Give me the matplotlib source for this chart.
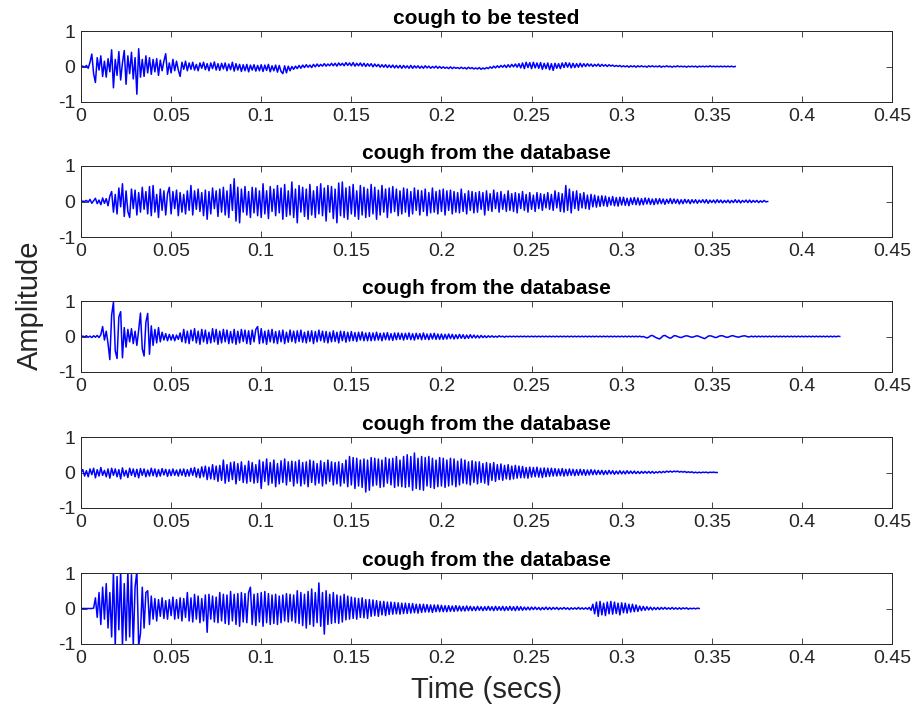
import numpy as np
import matplotlib
matplotlib.use("Agg")
import matplotlib.pyplot as plt

plt.rcParams["font.family"] = ["Liberation Sans", "DejaVu Sans"]

# sample spacing of the traced waveforms (s)
DT = 0.001

TITLES = ["cough to be tested", "cough from the database", "cough from the database",
          "cough from the database", "cough from the database"]

# amplitudes, one value every DT seconds (20 per row = 0.02 s)
cough_test = [
    0.00, 0.01, -0.02, 0.03, -0.05, 0.12, 0.35, -0.20, -0.45, 0.25, -0.10, 0.30, -0.28, 0.15, -0.30, 0.22, -0.15, 0.47, -0.60, 0.20,
    -0.25, 0.42, -0.38, 0.10, 0.45, -0.50, 0.30, -0.20, 0.40, -0.35, 0.25, -0.78, 0.50, -0.30, 0.20, -0.28, 0.30, -0.18, 0.25, -0.22,
    0.20, -0.15, 0.22, -0.25, 0.18, -0.12, 0.15, 0.36, -0.22, 0.10, -0.18, 0.20, -0.12, 0.15, -0.10, -0.28, 0.12, -0.08, 0.15, -0.12,
    0.10, -0.08, 0.12, -0.10, 0.06, -0.12, 0.10, -0.05, 0.12, -0.09, 0.08, -0.12, 0.10, -0.06, 0.13, -0.10, 0.08, -0.11, 0.09, -0.07,
    0.10, -0.12, 0.07, -0.09, 0.12, -0.13, 0.08, -0.10, 0.06, -0.14, 0.05, -0.12, 0.06, -0.15, 0.04, -0.10, 0.05, -0.13, 0.03, -0.12,
    0.05, -0.14, 0.04, -0.11, 0.06, -0.15, 0.02, -0.12, 0.04, -0.16, 0.03, -0.14, -0.20, 0.02, -0.18, 0.01, -0.12, 0.00, -0.08, 0.01,
    -0.06, 0.03, -0.05, 0.04, -0.03, 0.05, -0.02, 0.04, -0.03, 0.06, -0.01, 0.07, 0.00, 0.06, 0.01, 0.08, 0.01, 0.07, 0.02, 0.09,
    0.02, 0.09, 0.01, 0.10, 0.03, 0.09, 0.02, 0.11, 0.03, 0.10, 0.02, 0.11, 0.01, 0.09, 0.02, 0.10, 0.01, 0.09, 0.00, 0.08,
    0.01, 0.08, -0.01, 0.07, 0.00, 0.06, -0.02, 0.05, -0.02, 0.05, -0.03, 0.04, -0.03, 0.04, -0.04, 0.03, -0.04, 0.03, -0.05, 0.03,
    -0.04, 0.02, -0.05, 0.03, -0.05, 0.02, -0.04, 0.02, -0.05, 0.01, -0.05, 0.02, -0.04, 0.01, -0.05, 0.00, -0.04, 0.01, -0.05, 0.00,
    -0.05, -0.01, -0.05, -0.02, -0.06, -0.01, -0.06, -0.02, -0.05, -0.03, -0.06, -0.02, -0.06, -0.03, -0.07, -0.02, -0.06, -0.03, -0.07, -0.04,
    -0.07, -0.03, -0.08, -0.04, -0.07, -0.03, -0.06, -0.01, -0.05, 0.01, -0.04, 0.02, -0.03, 0.03, -0.02, 0.04, -0.03, 0.05, -0.02, 0.06,
    -0.01, 0.07, -0.02, 0.08, -0.04, 0.10, -0.06, 0.12, -0.03, 0.11, -0.06, 0.12, -0.04, 0.10, -0.05, 0.11, -0.08, 0.09, -0.06, 0.10,
    -0.09, 0.08, -0.11, 0.09, -0.05, 0.08, -0.06, 0.10, -0.03, 0.11, -0.02, 0.10, -0.04, 0.09, -0.03, 0.08, -0.02, 0.09, -0.01, 0.08,
    0.00, 0.08, 0.01, 0.07, 0.00, 0.06, 0.01, 0.07, 0.00, 0.06, 0.01, 0.05, 0.00, 0.05, 0.01, 0.04, 0.00, 0.03, 0.00, 0.03,
    -0.01, 0.02, -0.01, 0.02, -0.02, 0.02, -0.01, 0.02, -0.02, 0.02, -0.01, 0.02, -0.01, 0.01, -0.02, 0.02, -0.01, 0.02, -0.01, 0.01,
    -0.01, 0.02, -0.02, 0.01, -0.01, 0.02, -0.01, 0.01, -0.02, 0.01, -0.01, 0.02, -0.01, 0.01, -0.01, 0.01, -0.02, 0.01, -0.01, 0.01,
    -0.01, 0.01, -0.02, 0.01, -0.01, 0.01, -0.01, 0.01, -0.01, 0.02, -0.01, 0.01, -0.01, 0.01, -0.01, 0.01, -0.01, 0.01, -0.01, 0.01,
    -0.01, 0.01, -0.01, 0.00,
]

cough_db1 = [
    0.00, 0.01, 0.00, 0.03, -0.02, 0.06, -0.05, 0.02, 0.09, -0.06, 0.04, -0.09, 0.10, -0.05, 0.08, -0.12, 0.15, 0.28, -0.30, 0.20,
    -0.35, 0.38, -0.15, 0.50, -0.42, 0.30, -0.28, -0.45, 0.35, -0.20, 0.32, -0.38, 0.25, -0.30, 0.40, -0.22, 0.28, -0.35, 0.42, -0.40,
    0.45, -0.30, 0.20, -0.45, 0.35, -0.25, 0.30, -0.38, 0.22, 0.40, -0.35, 0.28, -0.20, 0.32, -0.40, 0.25, -0.30, 0.20, -0.35, 0.30,
    -0.25, 0.45, -0.38, 0.30, -0.22, 0.35, -0.28, 0.25, -0.40, 0.32, -0.50, 0.28, -0.35, 0.38, -0.20, 0.30, -0.42, 0.35, -0.30, 0.40,
    -0.38, 0.30, -0.45, 0.48, -0.25, 0.64, -0.55, 0.40, -0.60, 0.35, -0.30, 0.42, -0.38, 0.28, -0.45, 0.40, -0.32, 0.38, -0.40, 0.30,
    -0.45, 0.50, -0.35, 0.30, -0.48, 0.42, -0.28, 0.35, -0.40, 0.45, -0.32, 0.38, -0.50, 0.48, -0.42, 0.30, -0.38, 0.55, -0.45, 0.35,
    -0.60, 0.45, -0.30, 0.40, -0.42, 0.35, -0.50, 0.48, -0.38, 0.30, -0.45, 0.42, -0.35, 0.50, -0.40, 0.38, -0.55, 0.45, -0.30, 0.42,
    -0.48, 0.35, -0.60, 0.52, -0.40, 0.55, -0.45, 0.38, -0.50, 0.42, -0.35, 0.48, -0.42, 0.30, -0.50, 0.45, -0.38, 0.40, -0.45, 0.35,
    -0.42, 0.48, -0.35, 0.40, -0.50, 0.32, -0.38, 0.45, -0.30, 0.35, -0.45, 0.38, -0.32, 0.42, -0.28, 0.35, -0.40, 0.30, -0.35, 0.38,
    -0.30, 0.35, -0.42, 0.28, -0.35, 0.38, -0.25, 0.32, -0.38, 0.30, -0.28, 0.35, -0.40, 0.25, -0.32, 0.38, -0.30, 0.28, -0.35, 0.32,
    -0.28, 0.35, -0.38, 0.30, -0.25, 0.32, -0.35, 0.28, -0.30, 0.25, -0.32, 0.35, -0.28, 0.22, -0.35, 0.30, -0.25, 0.28, -0.32, 0.25,
    -0.30, 0.28, -0.22, 0.25, -0.38, 0.30, -0.25, 0.22, -0.28, 0.32, -0.20, 0.25, -0.30, 0.28, -0.22, 0.20, -0.28, 0.30, -0.25, 0.22,
    -0.28, 0.25, -0.32, 0.22, -0.20, 0.28, -0.25, 0.20, -0.30, 0.25, -0.22, 0.18, -0.28, 0.25, -0.20, 0.22, -0.25, 0.20, -0.18, 0.25,
    -0.22, 0.20, -0.25, 0.30, -0.18, 0.25, -0.28, 0.22, -0.30, 0.45, -0.25, 0.35, -0.32, 0.28, -0.20, 0.30, -0.25, 0.22, -0.18, 0.25,
    -0.20, 0.18, -0.22, 0.20, -0.15, 0.18, -0.16, 0.15, -0.14, 0.16, -0.12, 0.15, -0.14, 0.12, -0.10, 0.14, -0.12, 0.11, -0.13, 0.12,
    -0.10, 0.12, -0.11, 0.09, -0.12, 0.10, -0.08, 0.11, -0.09, 0.10, -0.10, 0.08, -0.09, 0.10, -0.07, 0.09, -0.08, 0.07, -0.09, 0.08,
    -0.07, 0.08, -0.06, 0.07, -0.08, 0.06, -0.05, 0.08, -0.06, 0.07, -0.05, 0.06, -0.07, 0.05, -0.06, 0.06, -0.04, 0.05, -0.06, 0.05,
    -0.04, 0.05, -0.05, 0.04, -0.03, 0.05, -0.04, 0.05, -0.05, 0.04, -0.03, 0.04, -0.04, 0.05, -0.03, 0.04, -0.04, 0.03, -0.03, 0.04,
    -0.04, 0.03, -0.03, 0.05, -0.03, 0.04, -0.04, 0.03, -0.02, 0.04, -0.03, 0.04, -0.03, 0.03, -0.02, 0.03, -0.03, 0.02, -0.02, 0.03,
    -0.01, 0.00,
]

cough_db2 = [
    0.00, 0.01, -0.01, 0.02, -0.02, 0.01, -0.03, 0.02, -0.02, 0.03, -0.03, 0.05, 0.28, -0.10, 0.15, -0.20, -0.65, 0.60, 0.97, -0.40,
    -0.62, 0.55, 0.70, -0.60, 0.25, -0.30, 0.20, -0.15, 0.22, -0.20, 0.15, -0.25, 0.18, 0.66, -0.35, -0.55, 0.40, 0.65, -0.50, 0.30,
    -0.25, 0.20, -0.18, 0.25, -0.15, 0.12, -0.10, 0.08, -0.12, 0.06, -0.10, 0.05, -0.12, 0.04, -0.08, 0.10, -0.15, 0.20, -0.18, 0.15,
    -0.20, 0.18, -0.12, 0.22, -0.18, 0.15, -0.22, 0.20, -0.15, 0.18, -0.20, 0.12, -0.18, 0.22, -0.15, 0.20, -0.22, 0.15, -0.18, 0.20,
    -0.15, 0.18, -0.20, 0.14, -0.18, 0.20, -0.22, 0.15, -0.18, 0.20, -0.14, 0.18, -0.20, 0.16, -0.22, 0.18, -0.15, 0.20, 0.28, -0.20,
    0.22, -0.18, 0.15, -0.22, 0.18, -0.15, 0.20, -0.18, 0.14, -0.20, 0.16, -0.15, 0.18, -0.20, 0.12, -0.16, 0.18, -0.14, 0.15, -0.18,
    0.16, -0.14, 0.18, -0.16, 0.12, -0.18, 0.15, -0.14, 0.16, -0.20, 0.14, -0.15, 0.18, -0.12, 0.15, -0.16, 0.14, -0.18, 0.12, -0.15,
    0.16, -0.14, 0.12, -0.18, 0.15, -0.12, 0.14, -0.16, 0.12, -0.13, 0.14, -0.12, 0.11, -0.14, 0.12, -0.10, 0.13, -0.12, 0.10, -0.12,
    0.11, -0.12, 0.10, -0.11, 0.12, -0.10, 0.09, -0.12, 0.10, -0.09, 0.11, -0.10, 0.08, -0.11, 0.10, -0.09, 0.10, -0.08, 0.09, -0.10,
    0.09, -0.08, 0.10, -0.09, 0.08, -0.10, 0.09, -0.07, 0.08, -0.09, 0.10, -0.08, 0.07, -0.09, 0.08, -0.07, 0.09, -0.08, 0.07, -0.08,
    0.07, -0.08, 0.06, -0.07, 0.07, -0.06, 0.06, -0.07, 0.05, -0.06, 0.06, -0.05, 0.05, -0.06, 0.04, -0.05, 0.05, -0.04, 0.04, -0.04,
    0.03, -0.04, 0.03, -0.03, 0.02, -0.03, 0.02, -0.02, 0.02, -0.02, 0.01, -0.02, 0.02, -0.01, 0.01, -0.02, 0.01, -0.01, 0.01, -0.01,
    0.01, -0.01, 0.01, -0.01, 0.01, -0.01, 0.01, -0.01, 0.01, -0.01, 0.01, -0.01, 0.01, -0.01, 0.01, -0.01, 0.01, -0.01, 0.01, -0.01,
    0.01, -0.01, 0.01, -0.01, 0.01, -0.01, 0.01, -0.01, 0.01, -0.01, 0.01, -0.01, 0.01, -0.01, 0.01, -0.01, 0.01, -0.01, 0.01, -0.01,
    0.01, -0.01, 0.01, -0.01, 0.01, -0.01, 0.01, -0.01, 0.01, -0.01, 0.01, -0.01, 0.01, -0.01, 0.01, -0.01, 0.01, -0.01, 0.01, -0.01,
    0.01, -0.01, 0.01, -0.01, 0.01, -0.01, 0.01, -0.01, 0.01, -0.01, 0.01, -0.01, 0.00, -0.02, -0.04, -0.02, 0.02, 0.03, 0.00, -0.03,
    -0.05, -0.07, -0.03, 0.02, 0.03, 0.00, -0.03, -0.05, -0.02, 0.02, 0.02, 0.00, -0.02, -0.03, -0.01, 0.01, 0.02, 0.01, -0.01, -0.02,
    -0.01, 0.01, 0.02, 0.00, -0.02, -0.04, -0.06, -0.03, 0.01, 0.02, 0.01, -0.01, -0.03, -0.02, 0.01, 0.02, 0.02, 0.00, -0.02, -0.02,
    0.00, 0.02, 0.02, 0.00, -0.01, -0.02, 0.00, 0.01, 0.02, 0.01, -0.01, -0.01, 0.01, -0.01, 0.01, -0.01, 0.01, -0.01, 0.01, -0.01,
    0.01, -0.01, 0.01, -0.01, 0.01, -0.01, 0.01, -0.01, 0.01, -0.01, 0.01, -0.01, 0.01, -0.01, 0.01, -0.01, 0.01, -0.01, 0.01, -0.01,
    0.01, -0.01, 0.01, -0.01, 0.01, -0.01, 0.01, -0.01, 0.01, -0.01, 0.01, -0.01, 0.01, -0.01, 0.01, -0.01, 0.01, -0.01, 0.01, -0.01,
    0.01, 0.00,
]

cough_db3 = [
    0.00, 0.08, -0.10, 0.05, -0.12, 0.10, -0.06, 0.12, -0.15, 0.08, -0.10, 0.14, -0.08, 0.06, -0.12, 0.10, -0.16, 0.12, -0.08, 0.10,
    -0.12, 0.08, -0.18, 0.13, -0.10, 0.06, -0.14, 0.12, -0.08, 0.10, -0.12, 0.09, -0.15, 0.11, -0.08, 0.10, -0.12, 0.07, -0.10, 0.12,
    -0.09, 0.10, -0.12, 0.08, -0.10, 0.11, -0.07, 0.09, -0.11, 0.08, -0.09, 0.10, -0.08, 0.07, -0.10, 0.09, -0.08, 0.10, -0.11, 0.08,
    -0.10, 0.12, -0.08, 0.14, -0.13, 0.10, -0.15, 0.16, -0.12, 0.18, -0.20, 0.15, -0.18, 0.22, -0.20, 0.18, -0.25, 0.20, -0.22, 0.35,
    -0.30, 0.22, -0.25, 0.28, -0.20, 0.30, -0.32, 0.25, -0.22, 0.30, -0.28, 0.20, -0.30, 0.32, -0.25, 0.28, -0.30, 0.22, -0.28, 0.35,
    -0.45, 0.30, -0.25, 0.38, -0.35, 0.28, -0.30, 0.35, -0.40, 0.25, -0.32, 0.33, -0.28, 0.38, -0.35, 0.30, -0.25, 0.32, -0.38, 0.30,
    -0.30, 0.35, -0.38, 0.28, -0.32, 0.30, -0.40, 0.35, -0.28, 0.32, -0.35, 0.25, -0.30, 0.33, -0.38, 0.28, -0.32, 0.35, -0.25, 0.30,
    -0.35, 0.28, -0.32, 0.30, -0.38, 0.25, -0.30, 0.35, -0.40, 0.45, -0.35, 0.42, -0.45, 0.40, -0.38, 0.35, -0.42, 0.38, -0.55, 0.35,
    -0.50, 0.42, -0.38, 0.40, -0.35, 0.38, -0.42, 0.35, -0.40, 0.42, -0.30, 0.38, -0.35, 0.40, -0.42, 0.45, -0.38, 0.35, -0.40, 0.45,
    -0.42, 0.50, -0.40, 0.45, -0.50, 0.55, -0.45, 0.40, -0.48, 0.45, -0.50, 0.42, -0.38, 0.45, -0.42, 0.40, -0.45, 0.35, -0.40, 0.42,
    -0.38, 0.40, -0.42, 0.35, -0.38, 0.40, -0.35, 0.38, -0.40, 0.32, -0.35, 0.38, -0.30, 0.35, -0.32, 0.30, -0.35, 0.33, -0.28, 0.30,
    -0.32, 0.30, -0.28, 0.25, -0.30, 0.28, -0.35, 0.25, -0.22, 0.28, -0.25, 0.22, -0.20, 0.24, -0.22, 0.20, -0.18, 0.22, -0.20, 0.18,
    -0.18, 0.20, -0.16, 0.18, -0.15, 0.17, -0.15, 0.14, -0.16, 0.15, -0.13, 0.14, -0.12, 0.15, -0.13, 0.12, -0.14, 0.13, -0.12, 0.12,
    -0.11, 0.12, -0.10, 0.11, -0.10, 0.10, -0.09, 0.11, -0.10, 0.09, -0.09, 0.10, -0.08, 0.09, -0.09, 0.08, -0.08, 0.09, -0.07, 0.08,
    -0.08, 0.07, -0.07, 0.08, -0.06, 0.07, -0.06, 0.06, -0.05, 0.06, -0.06, 0.05, -0.05, 0.06, -0.04, 0.05, -0.05, 0.04, -0.04, 0.05,
    -0.04, 0.04, -0.04, 0.05, -0.03, 0.04, -0.03, 0.04, -0.03, 0.03, -0.03, 0.03, -0.02, 0.03, -0.02, 0.03, -0.02, 0.03, -0.02, 0.02,
    -0.01, 0.03, -0.01, 0.03, 0.00, 0.04, 0.01, 0.04, 0.01, 0.04, 0.02, 0.04, 0.01, 0.03, 0.01, 0.03, 0.00, 0.02, 0.00, 0.02,
    -0.01, 0.01, -0.01, 0.01, -0.01, 0.01, 0.00, 0.01, -0.01, 0.01, 0.00, 0.01, 0.00, 0.00,
]

cough_db4 = [
    0.00, 0.00, 0.00, 0.00, 0.00, 0.00, 0.00, 0.01, 0.30, -0.25, 0.45, -0.45, 0.60, -0.30, 0.70, -0.55, 0.45, -0.80, 1.05, -1.05,
    0.90, -0.60, 1.05, -1.05, 0.70, -0.90, 1.05, -0.80, 0.95, -1.05, 0.60, 1.05, -1.05, -0.70, 0.60, -0.55, 0.45, 0.50, -0.45, 0.35,
    -0.30, 0.28, -0.35, 0.25, -0.22, 0.30, -0.28, 0.22, -0.30, 0.25, -0.20, 0.32, -0.30, 0.25, -0.28, 0.30, -0.35, 0.28, -0.25, 0.45,
    -0.35, 0.30, -0.38, 0.40, -0.30, 0.35, -0.40, 0.28, -0.35, 0.38, -0.67, 0.40, -0.30, 0.35, -0.38, 0.32, -0.40, 0.45, -0.35, 0.40,
    -0.42, 0.38, -0.45, 0.48, -0.35, 0.40, -0.45, 0.42, -0.50, 0.45, -0.38, 0.42, -0.40, 0.45, 0.60, -0.45, 0.40, -0.48, 0.42, -0.38,
    0.45, -0.50, 0.48, -0.40, 0.42, -0.45, 0.38, -0.42, 0.40, -0.45, 0.35, -0.40, 0.38, -0.35, 0.42, -0.38, 0.40, -0.35, 0.38, -0.40,
    0.50, -0.42, 0.45, -0.48, 0.40, -0.55, 0.48, -0.45, 0.55, -0.50, 0.45, -0.40, 0.72, -0.50, 0.45, -0.72, 0.50, -0.45, 0.40, -0.42,
    0.45, -0.40, 0.38, -0.42, 0.35, -0.38, 0.40, -0.32, 0.35, -0.30, 0.32, -0.28, 0.30, -0.30, 0.28, -0.25, 0.30, -0.26, 0.25, -0.28,
    0.25, -0.22, 0.24, -0.20, 0.22, -0.22, 0.20, -0.18, 0.20, -0.20, 0.18, -0.17, 0.18, -0.16, 0.17, -0.15, 0.16, -0.16, 0.15, -0.14,
    0.15, -0.14, 0.14, -0.13, 0.14, -0.12, 0.12, -0.13, 0.12, -0.11, 0.12, -0.10, 0.11, -0.10, 0.10, -0.11, 0.10, -0.09, 0.10, -0.09,
    0.09, -0.09, 0.08, -0.09, 0.08, -0.08, 0.07, -0.08, 0.08, -0.07, 0.07, -0.07, 0.06, -0.07, 0.07, -0.06, 0.06, -0.06, 0.05, -0.06,
    0.06, -0.05, 0.05, -0.06, 0.05, -0.05, 0.06, -0.05, 0.05, -0.06, 0.06, -0.05, 0.05, -0.05, 0.06, -0.06, 0.05, -0.05, 0.06, -0.05,
    0.05, -0.06, 0.06, -0.05, 0.05, -0.05, 0.04, -0.04, 0.04, -0.04, 0.04, -0.03, 0.04, -0.03, 0.03, -0.04, 0.03, -0.03, 0.04, -0.03,
    0.03, -0.03, 0.03, -0.02, 0.03, -0.03, 0.02, -0.02, 0.03, -0.02, 0.02, -0.03, 0.02, -0.02, 0.02, -0.02, 0.03, -0.02, 0.02, -0.02,
    0.02, -0.02, 0.03, -0.05, 0.12, -0.15, 0.18, -0.22, 0.20, -0.18, 0.15, -0.20, 0.18, -0.15, 0.20, -0.16, 0.18, -0.14, 0.15, -0.18,
    0.16, -0.12, 0.15, -0.13, 0.12, -0.10, 0.12, -0.09, 0.10, -0.08, 0.07, -0.06, 0.06, -0.05, 0.05, -0.04, 0.04, -0.04, 0.03, -0.03,
    0.03, -0.03, 0.03, -0.02, 0.03, -0.02, 0.02, -0.02, 0.03, -0.02, 0.02, -0.02, 0.02, -0.02, 0.02, -0.01, 0.02, -0.02, 0.01, -0.01,
    0.01, -0.01, 0.01, 0.00,
]

SIGNALS = [cough_test, cough_db1, cough_db2, cough_db3, cough_db4]

XTICKS = [0, 0.05, 0.1, 0.15, 0.2, 0.25, 0.3, 0.35, 0.4, 0.45]
XTICKLABELS = ["0", "0.05", "0.1", "0.15", "0.2", "0.25", "0.3", "0.35", "0.4", "0.45"]
YTICKS = [-1, 0, 1]

W, H = 912, 710
fig = plt.figure(figsize=(W / 100, H / 100), dpi=100)
edge = "#262626"

left, right = 81, 892
tops = [31, 166, 301, 437, 573]
ax_h = 71

for top, title, sig in zip(tops, TITLES, SIGNALS):
    ax = fig.add_axes([left / W, 1 - (top + ax_h) / H, (right - left) / W, ax_h / H])
    y = np.asarray(sig)
    t = np.arange(len(y)) * DT
    ax.plot(t, y, color="#0000ff", lw=1.1)
    ax.set_xlim(0, 0.45)
    ax.set_ylim(-1, 1)
    ax.set_xticks(XTICKS)
    ax.set_xticklabels(XTICKLABELS)
    ax.set_yticks(YTICKS)
    ax.set_yticklabels([str(v) for v in YTICKS])
    ax.tick_params(direction="in", top=True, right=True, length=4, width=0.6,
                   colors=edge, labelsize=14, pad=4)
    for sp in ax.spines.values():
        sp.set_color(edge)
        sp.set_linewidth(0.7)
    ax.set_title(title, fontsize=15, fontweight="bold", color="black", pad=5)

fig.text(30 / W, 1 - 305 / H, "Amplitude", rotation=90, fontsize=21,
         ha="center", va="center", color=edge)
fig.text((left + right) / 2 / W, 1 - 690 / H, "Time (secs)", fontsize=21,
         ha="center", va="center", color=edge)

fig.savefig("out.png", dpi=100)
